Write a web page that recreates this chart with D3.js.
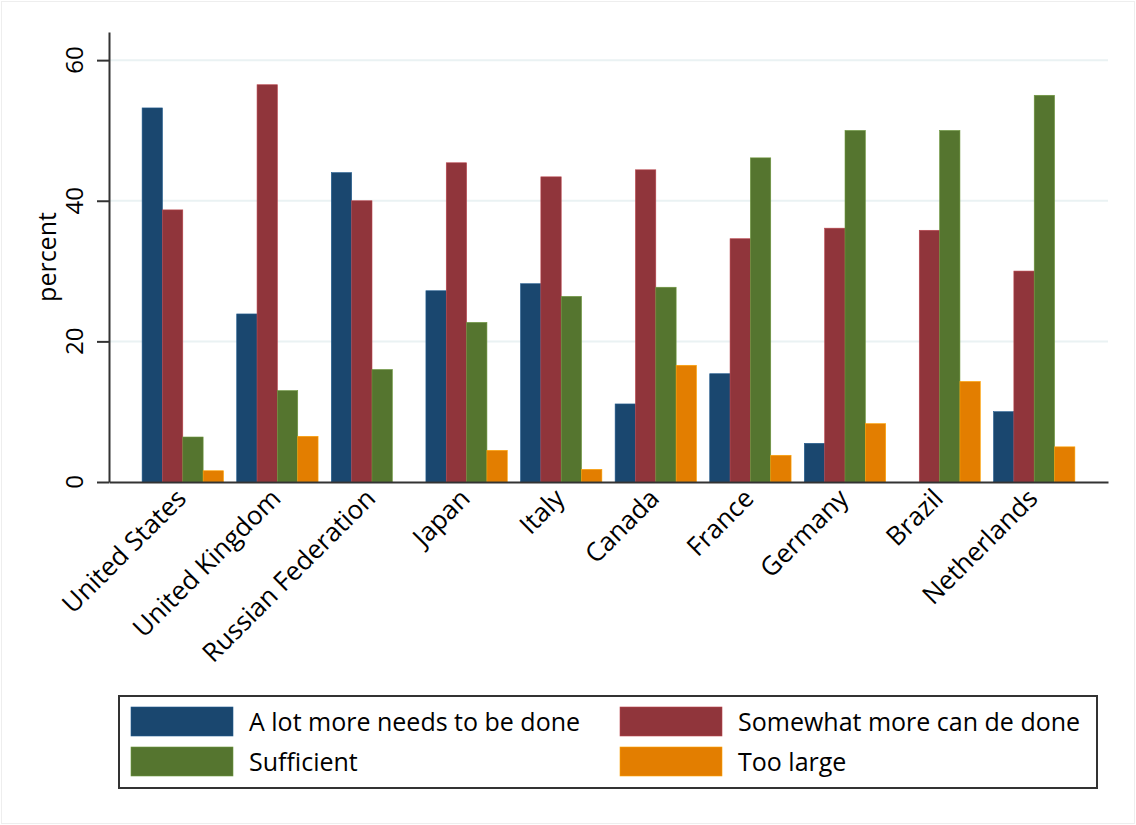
<!DOCTYPE html>
<html>
<head>
<meta charset="utf-8">
<script src="https://cdn.jsdelivr.net/npm/d3@7"></script>
<style>
  body { margin: 0; background: #fff; overflow: hidden; }
  svg { display: block; }
  text { font-family: "Open Sans", sans-serif; fill: #000; }
</style>
</head>
<body>
<svg></svg>
<script>
// Data
const countries = ["United States", "United Kingdom", "Russian Federation", "Japan", "Italy",
    "Canada", "France", "Germany", "Brazil", "Netherlands"]
const lotMore = [53.2, 23.9, 44.0, 27.2, 28.2, 11.1, 15.4, 5.5, 0, 10.0]
const somewhatMore = [38.7, 56.5, 40.0, 45.4, 43.4, 44.4, 34.6, 36.1, 35.8, 30.0]
const sufficient = [6.4, 13.0, 16.0, 22.7, 26.4, 27.7, 46.1, 50.0, 50.0, 55.0]
const tooLarge = [1.6, 6.5, 0, 4.5, 1.8, 16.6, 3.8, 8.3, 14.3, 5.0]
const seriesNames = ["A lot more needs to be done", "Somewhat more can de done", "Sufficient", "Too large"]
const yTicks = [0, 20, 40, 60]

// Svg size
const width = 1136
const height = 825

const svg = d3.select("svg")
    .attr("width", width)
    .attr("height", height)

const colors = ["#1a476f", "#90353b", "#55752f", "#e37e00"]
const seriesValues = [lotMore, somewhatMore, sufficient, tooLarge]

const margin = { top: 32, right: 28, bottom: 343, left: 109 }
const innerWidth = width - margin.left - margin.right
const innerHeight = height - margin.top - margin.bottom

// outer frame of graph region
svg.append("rect")
    .attr("x", 1.5).attr("y", 1.5)
    .attr("width", width - 3).attr("height", height - 3)
    .attr("fill", "none")
    .attr("stroke", "#eeeeee")

const g = svg.append("g")
    .attr("transform", `translate(${margin.left}, ${margin.top})`)

// Scales
const x0 = d3.scaleBand()
    .domain(countries)
    .range([0, innerWidth])
    .paddingInner(0.14)
    .paddingOuter(0.35)

const x1 = d3.scaleBand()
    .domain(d3.range(4))
    .range([0, x0.bandwidth()])

const yScale = d3.scaleLinear()
    .domain([0, 64])
    .range([innerHeight, 0])

// Gridlines
g.selectAll(".grid").data(yTicks.filter(d => d > 0))
    .enter().append("line")
    .attr("x1", 0).attr("x2", innerWidth)
    .attr("y1", d => yScale(d)).attr("y2", d => yScale(d))
    .attr("stroke", "#eaf2f3")
    .attr("stroke-width", 2)

// Bars
const groups = g.selectAll(".group").data(countries)
    .enter().append("g")
    .attr("transform", d => `translate(${x0(d)}, 0)`)

groups.selectAll("rect")
    .data((d, i) => seriesValues.map((s, k) => ({ k, v: s[i] })))
    .enter().append("rect")
    .filter(d => d.v > 0)
    .attr("x", d => x1(d.k))
    .attr("width", x1.bandwidth())
    .attr("y", d => yScale(d.v))
    .attr("height", d => yScale(0) - yScale(d.v))
    .attr("fill", d => colors[d.k])
    .attr("stroke", d => d3.color(colors[d.k]).brighter(0.7))
    .attr("stroke-width", 0.6)

// Y axis (labels drawn separately, rotated)
const yAxis = d3.axisLeft(yScale)
    .tickValues(yTicks)
    .tickSize(12)
    .tickSizeOuter(0)
    .tickFormat("")

const yAxisG = g.append("g").call(yAxis)
yAxisG.select(".domain").attr("stroke", "#333").attr("stroke-width", 2)
yAxisG.selectAll(".tick line").attr("stroke", "#333").attr("stroke-width", 2)

g.selectAll(".ylab").data(yTicks)
    .enter().append("g")
    .attr("transform", d => `translate(-26, ${yScale(d)}) rotate(-90)`)
    .append("text")
    .attr("text-anchor", "middle")
    .attr("font-size", 24)
    .text(d => d)

g.append("g")
    .attr("transform", `translate(-53, ${innerHeight / 2}) rotate(-90)`)
    .append("text")
    .attr("text-anchor", "middle")
    .attr("font-size", 25)
    .text("percent")

// X axis
const xAxis = d3.axisBottom(x0).tickSize(0).tickSizeOuter(0).tickFormat("")
const xAxisG = g.append("g").call(xAxis)
    .attr("transform", `translate(0, ${innerHeight})`)
xAxisG.select(".domain").attr("stroke", "#333").attr("stroke-width", 2)

g.selectAll(".xlab").data(countries)
    .enter().append("g")
    .attr("transform", d => `translate(${x0(d) + x0.bandwidth() / 2 + 5}, ${innerHeight + 18}) rotate(-45)`)
    .append("text")
    .attr("text-anchor", "end")
    .attr("font-size", 26)
    .text(d => d)

// Legend
const legend = svg.append("g").attr("transform", "translate(119, 696)")
legend.append("rect")
    .attr("width", 978).attr("height", 92)
    .attr("fill", "#fff")
    .attr("stroke", "#333")
    .attr("stroke-width", 2)

const items = legend.selectAll(".item").data(seriesNames)
    .enter().append("g")
    .attr("transform", (d, i) => `translate(${(i % 2) * 489 + 12}, ${Math.floor(i / 2) * 40 + 11})`)

items.append("rect")
    .attr("width", 102).attr("height", 29)
    .attr("fill", (d, i) => colors[i])
    .attr("stroke", (d, i) => d3.color(colors[i]).brighter(0.7))
    .attr("stroke-width", 0.6)

items.append("text")
    .attr("x", 118).attr("y", 24)
    .attr("font-size", 25)
    .text(d => d)
</script>
</body>
</html>
